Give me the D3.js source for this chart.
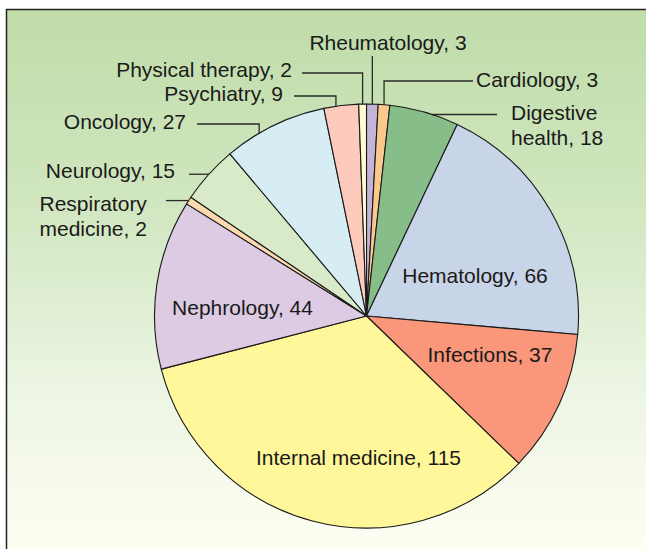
<!DOCTYPE html>
<html>
<head>
<meta charset="utf-8">
<style>
  body { margin: 0; background: #fff; overflow: hidden; }
  svg { display: block; }
  text { font-family: "Liberation Sans", Arial, sans-serif; font-size: 21px; fill: #1a1a1a; }
</style>
</head>
<body>
<svg width="646" height="549"></svg>
<script src="https://cdn.jsdelivr.net/npm/d3@7"></script>
<script>

// clockwise from 12 o'clock
var categories = ["Rheumatology", "Cardiology", "Digestive health", "Hematology", "Infections",
                  "Internal medicine", "Nephrology", "Respiratory medicine", "Neurology",
                  "Oncology", "Psychiatry", "Physical therapy"];
var values = [3, 3, 18, 66, 37, 115, 44, 2, 15, 27, 9, 2];
var colors = ["#c4b4d8", "#fcc98c", "#86bd88", "#c8d4e7", "#fa9679",
              "#fff799", "#dccbe3", "#fdd9b2", "#d8eac7", "#d5edf3", "#fdcabc", "#fffbd2"];
// label text lines, split the way the picture wraps them
var labelLines = [["Rheumatology, 3"], ["Cardiology, 3"], ["Digestive", "health, 18"],
                  ["Hematology, 66"], ["Infections, 37"], ["Internal medicine, 115"],
                  ["Nephrology, 44"], ["Respiratory", "medicine, 2"], ["Neurology, 15"],
                  ["Oncology, 27"], ["Psychiatry, 9"], ["Physical therapy, 2"]];

var svg = d3.select("svg"),
    cx = 366.5, cy = 316, r = 212;

// background panel with gradient
var grad = svg.append("defs").append("linearGradient")
    .attr("id", "bg").attr("gradientUnits", "userSpaceOnUse")
    .attr("x1", 0).attr("y1", 10).attr("x2", 0).attr("y2", 549);
grad.append("stop").attr("offset", "0%").attr("stop-color", "#c0dca9");
grad.append("stop").attr("offset", "35%").attr("stop-color", "#d0e6bf");
grad.append("stop").attr("offset", "70%").attr("stop-color", "#ecf5e3");
grad.append("stop").attr("offset", "100%").attr("stop-color", "#fefef3");

svg.append("rect")
    .attr("x", 6.5).attr("y", 9.5)
    .attr("width", 700).attr("height", 600)
    .attr("fill", "url(#bg)");
// frame: only top and left edges are inside the picture
svg.append("path")
    .attr("d", "M6.5,560V9.5H660")
    .attr("fill", "none")
    .attr("stroke", "#222").attr("stroke-width", 1.5);

var pie = d3.pie().sort(null).value(function(d) { return d; });
var arcs = pie(values);
var arc = d3.arc().innerRadius(0).outerRadius(r);

var g = svg.append("g").attr("transform", "translate(" + cx + "," + cy + ")");

g.selectAll("path.slice")
    .data(arcs)
  .enter().append("path")
    .attr("class", "slice")
    .attr("d", arc)
    .attr("fill", function(d, i) { return colors[i]; })
    .attr("stroke", "#1a1a1a")
    .attr("stroke-width", 1.1)
    .attr("stroke-linejoin", "round");

// label layout: text position + leader line (t = where along the slice the leader starts)
var layout = [
  {x: 388, y: 50, anchor: "middle", lead: {t: 0.5, ey: 56}},
  {x: 476, y: 87, anchor: "start", lead: {t: 0.5, ey: 81, ex: 473}},
  {x: 511, y: 120, anchor: "start", lead: {t: 0.62, ex: 497}},
  {x: 475, y: 283, anchor: "middle"},
  {x: 490, y: 362, anchor: "middle"},
  {x: 358.5, y: 465, anchor: "middle"},
  {x: 242.5, y: 315, anchor: "middle"},
  {x: 39.5, y: 211, anchor: "start", lead: {t: 0.5, ex: 166}},
  {x: 175, y: 178, anchor: "end", lead: {t: 0.5, ex: 189}},
  {x: 186, y: 129, anchor: "end", lead: {t: 0.34, ey: 124, ex: 197}},
  {x: 283, y: 101, anchor: "end", lead: {t: 0.35, ey: 96, ex: 294}},
  {x: 292, y: 77, anchor: "end", lead: {t: 0.5, ey: 73, ex: 302}}
];

var lineGen = d3.line();

arcs.forEach(function(d, i) {
  var L = layout[i];
  if (L.lead) {
    var a = d.startAngle + (d.endAngle - d.startAngle) * L.lead.t;
    var px = cx + r * Math.sin(a), py = cy - r * Math.cos(a);
    var pts = [[px, py]];
    if (L.lead.ey !== undefined) {
      pts.push([px, L.lead.ey]);
      if (L.lead.ex !== undefined) pts.push([L.lead.ex, L.lead.ey]);
    } else {
      pts.push([L.lead.ex, py]);
    }
    svg.append("path")
        .attr("d", lineGen(pts))
        .attr("fill", "none")
        .attr("stroke", "#2a2a2a")
        .attr("stroke-width", 1.3);
  }
  var t = svg.append("text")
      .attr("x", L.x).attr("y", L.y)
      .attr("text-anchor", L.anchor);
  labelLines[i].forEach(function(s, k) {
    t.append("tspan")
        .attr("x", L.x)
        .attr("dy", k === 0 ? 0 : 24.5)
        .text(s);
  });
});

</script>
</body>
</html>
